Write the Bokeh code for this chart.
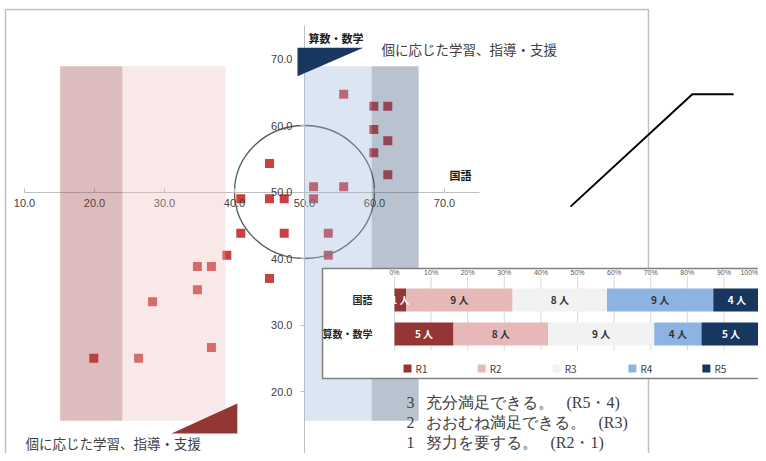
from bokeh.plotting import figure
from bokeh.models import LinearAxis, FixedTicker, PrintfTickFormatter, Range1d
from bokeh.core.properties import value
from bokeh.embed import file_html
from bokeh.resources import INLINE

# ---------------- data ----------------
# scatter: 国語 (x) vs 算数・数学 (y) standard scores
kokugo = [19.9, 26.3, 28.3, 34.7, 36.7, 38.9, 34.7, 36.7, 45.0, 40.9, 47.1, 53.4, 53.4,
          45.0, 40.9, 45.0, 47.1, 51.3, 55.6, 51.3, 55.6, 59.9, 59.9, 59.9, 61.9, 61.9, 61.9]
sansu = [25.0, 25.0, 33.5, 38.8, 38.8, 40.5, 35.3, 26.6, 37.0, 43.8, 43.8, 43.8, 40.5,
         54.3, 49.0, 49.0, 49.0, 50.8, 50.8, 49.0, 64.7, 62.9, 59.4, 55.9, 62.9, 57.7, 52.6]
axis_ticks = [10, 20, 30, 40, 50, 60, 70]

# shaded bands (国語 score ranges)
band_left = [15.1, 24.0, 50.0, 59.6]
band_right = [24.0, 38.7, 59.6, 66.3]
band_bottom = [15.6, 15.6, 15.6, 15.6]
band_top = [68.9, 68.9, 68.9, 68.9]
band_colors = ["#9b4042", "#ebbdbd", "#9bb8da", "#375476"]

# stacked bar inset
subjects = ["国語", "算数・数学"]
ranks = ["R1", "R2", "R3", "R4", "R5"]
counts = {"国語": [1, 9, 8, 9, 4], "算数・数学": [5, 8, 9, 4, 5]}
rank_colors = ["#943634", "#e6b9b8", "#f2f2f2", "#8db3e2", "#17375e"]
rank_text_colors = ["white", "#333333", "#333333", "#333333", "white"]
pct_ticks = [0, 10, 20, 30, 40, 50, 60, 70, 80, 90, 100]

SP = "\u2002\u00a0"
notes = [f"3{SP}充分満足できる。{SP}(R5・4)", f"2{SP}おおむね満足できる。{SP}(R3)",
         f"1{SP}努力を要する。{SP}(R2・1)"]
side_label = "個に応じた学習、指導・支援"

# ---------------- figure ----------------
p = figure(width=758, height=453, x_range=Range1d(6.571, 114.857), y_range=Range1d(10.677, 78.797),
           x_axis_type=None, y_axis_type=None, toolbar_location=None, output_backend="svg",
           min_border=0, outline_line_color=None, title=None)
p.extra_x_ranges = {"pct": Range1d(-107.65, 99.45)}
p.extra_y_ranges = {"bar": Range1d(-3.515, 9.809)}
p.background_fill_color = "white"

axis_style = dict(axis_line_color="#bfbfbf", major_tick_line_color="#bfbfbf", minor_tick_line_color=None,
                  major_label_text_font_size="11px", major_label_text_color="#404040",
                  major_label_text_font="Liberation Sans",
                  ticker=FixedTicker(ticks=axis_ticks), formatter=PrintfTickFormatter(format="%.1f"),
                  bounds=(10, 75))
xaxis = LinearAxis(fixed_location=50, major_tick_in=4, major_tick_out=0, major_label_standoff=7, **axis_style)
yaxis = LinearAxis(fixed_location=50, major_tick_in=0, major_tick_out=4, major_label_standoff=8, **axis_style)
p.add_layout(xaxis, "below")
p.add_layout(yaxis, "left")

# frame of the slide
p.line([7.286, 99.14, 99.14], [77.44, 77.44, 10.677], line_color="#bfbfbf", line_width=1.5)
p.line([7.286, 7.286], [77.44, 10.677], line_color="#bfbfbf", line_width=1.5)

# points
p.scatter(kokugo, sansu, marker="square", size=9, fill_color="#c94040", line_color=None)

# circle around the mean
p.ellipse(x=50, y=50, width=20, height=20, fill_color=None, line_color="#595959", line_width=1.3)

# bands on top (tinting points & axes)
p.quad(left=band_left, right=band_right, bottom=band_bottom, top=band_top,
       fill_color=band_colors, fill_alpha=0.35, line_color=None, level="overlay")

# triangles
p.patch([49.0, 58.4, 49.0], [71.7, 71.7, 67.4], fill_color="#17375e", line_color=None, level="overlay")
p.patch([31.0, 40.4, 40.4], [13.7, 13.7, 18.2], fill_color="#943634", line_color=None, level="overlay")

# labels
p.text(x=[50.57], y=[73.23], text=["算数・数学"], text_font=value("Noto Sans CJK JP"), text_font_style="bold",
       text_font_size="11px", text_color="#1a1a1a", text_baseline="middle", text_align="left", level="overlay")
p.text(x=[72.3], y=[52.63], text=["国語"], text_font=value("Noto Sans CJK JP"), text_font_style="bold",
       text_font_size="11px", text_color="#1a1a1a", text_baseline="middle", text_align="center", level="overlay")
p.text(x=[61.0, 10.14], y=[71.43, 12.33], text=[side_label, side_label], text_font=value("Noto Sans CJK JP"),
       text_font_size="13.5px", text_color="#404040", text_baseline="middle", text_align="left", level="overlay")

# connector line
p.line([88.0, 105.4, 111.3], [47.8, 64.7, 64.7], line_color="black", line_width=2)

# ---------------- inset stacked bar chart ----------------
R = dict(x_range_name="pct", y_range_name="bar")
p.quad(left=[-19.67], right=[110], bottom=[-1.309], top=[1.926], fill_color="white",
       line_color="#808080", line_width=1.5, level="overlay", **R)
p.segment(x0=pct_ticks, x1=pct_ticks, y0=[1.69] * len(pct_ticks), y1=[-0.485] * len(pct_ticks),
          line_color="#d9d9d9", line_width=1, level="overlay", **R)
p.text(x=pct_ticks[:-1], y=[1.80] * (len(pct_ticks) - 1), text=[f"{t}%" for t in pct_ticks[:-1]],
       text_font_size="7px", text_color="#595959", text_align="center", text_baseline="middle",
       text_font=value("Liberation Sans"), level="overlay", **R)
p.text(x=[pct_ticks[-1] - 0.6], y=[1.80], text=[f"{pct_ticks[-1]}%"],
       text_font_size="7px", text_color="#595959", text_align="right", text_baseline="middle",
       text_font=value("Liberation Sans"), level="overlay", **R)

row_y = {"国語": 1, "算数・数学": 0}
for subj in subjects:
    total = sum(counts[subj])
    left = 0.0
    lefts, rights, mids, labels = [], [], [], []
    for c in counts[subj]:
        w = c / total * 100
        lefts.append(left)
        rights.append(left + w)
        mids.append(left + w / 2)
        labels.append(f"{c} 人")
        left += w
    y = row_y[subj]
    p.hbar(y=[y] * 5, left=lefts, right=rights, height=0.676, fill_color=rank_colors,
           line_color=None, level="overlay", **R)
    p.text(x=mids, y=[y] * 5, text=labels, text_color=rank_text_colors, text_font_size="10px",
           text_font_style="bold", text_align="center", text_baseline="middle",
           text_font=value("Noto Sans CJK JP"), level="overlay", **R)
    p.text(x=[-6.0], y=[y], text=[subj], text_color="#262626", text_font_size="10px",
           text_font_style="bold", text_align="right", text_baseline="middle",
           text_font=value("Noto Sans CJK JP"), level="overlay", **R)

leg_x = [3.55, 23.8, 44.3, 65.0, 85.2]
p.scatter(x=leg_x, y=[-1.015] * 5, marker="square", size=8, fill_color=rank_colors, line_color=None,
          level="overlay", **R)
p.text(x=[v + 2.2 for v in leg_x], y=[-1.015] * 5, text=ranks, text_color="#404040", text_font_size="10px",
       text_align="left", text_baseline="middle", text_font=value("Noto Sans CJK JP"), level="overlay", **R)

# notes below
p.text(x=[64.57] * 3, y=[18.35, 15.34, 12.33], text=notes, text_font=value("Liberation Serif"),
       text_font_size="16px", text_color="#404040", text_align="left", text_baseline="middle", level="overlay")

open("out.html", "w").write(file_html(p, INLINE))
